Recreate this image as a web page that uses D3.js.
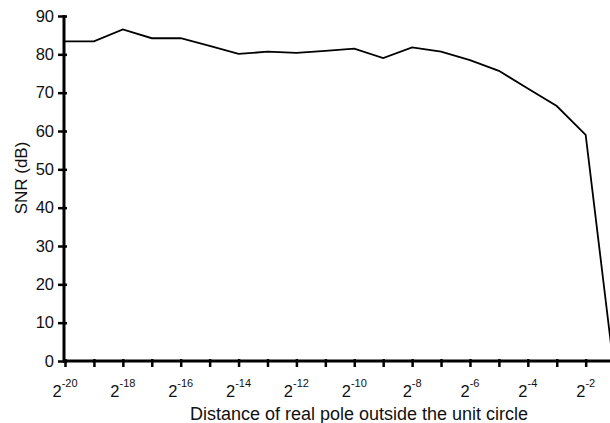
<!DOCTYPE html>
<html>
<head>
<meta charset="utf-8">
<script src="https://cdn.jsdelivr.net/npm/d3@7"></script>
<style>
  body { margin: 0; background: #fff; }
  svg { display: block; font-family: "Liberation Sans", Arial, sans-serif; }
</style>
</head>
<body>
<svg id="chart" width="610" height="423"></svg>
<script>
// exponent of 2 for the distance, and SNR
const exponents = [-20, -19, -18, -17, -16, -15, -14, -13, -12, -11, -10, -9, -8, -7, -6, -5, -4, -3, -2, -1];
const snr = [83.4, 83.4, 86.5, 84.2, 84.2, 82.2, 80.1, 80.7, 80.4, 80.9, 81.5, 79.0, 81.8, 80.7, 78.5, 75.7, 71.1, 66.5, 59.0, -3.5];
const yTicks = [0, 10, 20, 30, 40, 50, 60, 70, 80, 90];
const xLabelExps = [-20, -18, -16, -14, -12, -10, -8, -6, -4, -2];

const svg = d3.select("#chart");

const x = d3.scaleLinear().domain([-20, -1]).range([65, 614.6]);
const y = d3.scaleLinear().domain([0, 90]).range([361, 16]);

// y axis
const yAxis = svg.append("g")
  .attr("transform", "translate(64,0)")
  .call(d3.axisLeft(y).tickValues(yTicks).tickSize(6).tickPadding(4));
yAxis.select(".domain").remove();
yAxis.selectAll(".tick line").attr("x2", -6).attr("x1", 3).attr("stroke", "#000").attr("stroke-width", 2.5);
yAxis.selectAll(".tick text").attr("font-size", 16.5).attr("fill", "#111").attr("font-family", null);
svg.append("line")
  .attr("x1", 64).attr("x2", 64).attr("y1", y(90) - 1).attr("y2", y(0) + 1.5)
  .attr("stroke", "#000").attr("stroke-width", 3);

// x axis
const xAxis = svg.append("g")
  .attr("transform", "translate(0,361)")
  .call(d3.axisBottom(x).tickValues(exponents).tickSize(6).tickFormat(""));
xAxis.select(".domain").remove();
xAxis.selectAll(".tick line").attr("y1", -2).attr("y2", 6).attr("stroke", "#000").attr("stroke-width", 2.5);
svg.append("line")
  .attr("x1", 63).attr("x2", 610).attr("y1", 361).attr("y2", 361)
  .attr("stroke", "#000").attr("stroke-width", 3);

// x tick labels as powers of two
const lab = svg.append("g").selectAll("text")
  .data(xLabelExps)
  .join("text")
  .attr("x", d => x(d))
  .attr("y", 397.3)
  .attr("text-anchor", "middle")
  .attr("font-size", 16.5)
  .attr("fill", "#111");
lab.append("tspan").text("2");
lab.append("tspan").attr("dy", -10.5).attr("font-size", 11).text(d => String(d));

// axis titles
svg.append("text")
  .attr("x", 359).attr("y", 420)
  .attr("text-anchor", "middle")
  .attr("font-size", 18)
  .attr("fill", "#111")
  .text("Distance of real pole outside the unit circle");

svg.append("text")
  .attr("transform", "translate(26.5,178) rotate(-90)")
  .attr("text-anchor", "middle")
  .attr("font-size", 17)
  .attr("fill", "#111")
  .text("SNR (dB)");

// data line
const line = d3.line()
  .x((d, i) => x(exponents[i]))
  .y(d => y(d));

svg.append("path")
  .datum(snr)
  .attr("d", line)
  .attr("fill", "none")
  .attr("stroke", "#000")
  .attr("stroke-width", 1.8);
</script>
</body>
</html>
